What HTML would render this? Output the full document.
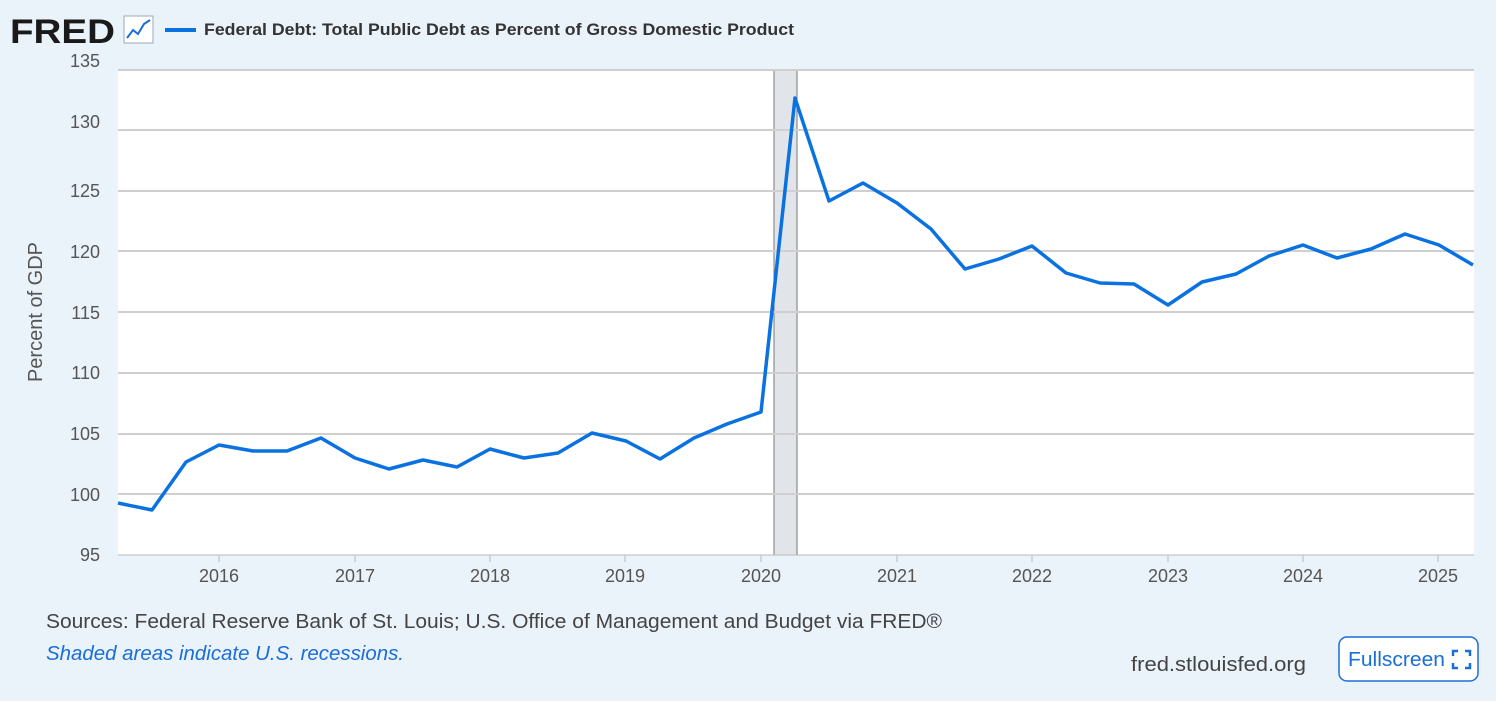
<!DOCTYPE html>
<html><head><meta charset="utf-8"><style>
html,body{margin:0;padding:0;background:#eaf2fa;}
body{width:1496px;height:701px;position:relative;overflow:hidden;font-family:"Liberation Sans",sans-serif;}
</style></head><body>
<svg width="1496" height="701" xmlns="http://www.w3.org/2000/svg" style="position:absolute;left:0;top:0">
<rect x="0" y="0" width="1496" height="701" fill="#eaf2fa"/>
<text x="10" y="43" font-family="Liberation Sans" font-weight="bold" font-size="34" fill="#1a1a1a" textLength="105" lengthAdjust="spacingAndGlyphs">FRED</text>
<rect x="124" y="16" width="29" height="27" fill="#fff" stroke="#9ab" stroke-width="1"/>
<polyline points="127,38 133,30 138,34 144,24 150,20" fill="none" stroke="#1a6ed8" stroke-width="2"/>
<line x1="165" y1="30" x2="196" y2="30" stroke="#0a72e0" stroke-width="4"/>
<text x="204" y="35" font-family="Liberation Sans" font-weight="bold" font-size="17" fill="#333" textLength="590" lengthAdjust="spacingAndGlyphs">Federal Debt: Total Public Debt as Percent of Gross Domestic Product</text>
<rect x="118" y="70" width="1356" height="485" fill="#fff"/>
<rect x="774" y="70" width="23" height="485" fill="#e1e5e9" stroke="#777" stroke-width="1"/>
<g stroke="#cfcfcf" stroke-width="2">
<line x1="118" x2="1474" y1="70" y2="70"/><line x1="118" x2="1474" y1="130" y2="130"/>
<line x1="118" x2="1474" y1="191" y2="191"/><line x1="118" x2="1474" y1="251" y2="251"/>
<line x1="118" x2="1474" y1="312" y2="312"/><line x1="118" x2="1474" y1="373" y2="373"/>
<line x1="118" x2="1474" y1="434" y2="434"/><line x1="118" x2="1474" y1="494" y2="494"/>
</g>
<line x1="118" x2="1474" y1="555" y2="555" stroke="#bbb" stroke-width="1"/>
<g font-family="Liberation Sans" font-size="18" fill="#555" text-anchor="end">
<text x="100" y="67">135</text><text x="100" y="128">130</text><text x="100" y="197">125</text>
<text x="100" y="258">120</text><text x="100" y="319">115</text><text x="100" y="379">110</text>
<text x="100" y="440">105</text><text x="100" y="501">100</text><text x="100" y="561">95</text>
</g>
<text transform="translate(42,312) rotate(-90)" font-family="Liberation Sans" font-size="20" fill="#555" text-anchor="middle">Percent of GDP</text>
<g font-family="Liberation Sans" font-size="18" fill="#555" text-anchor="middle">
<text x="219" y="582">2016</text><text x="355" y="582">2017</text><text x="490" y="582">2018</text>
<text x="625" y="582">2019</text><text x="761" y="582">2020</text><text x="897" y="582">2021</text>
<text x="1032" y="582">2022</text><text x="1168" y="582">2023</text><text x="1303" y="582">2024</text>
<text x="1438" y="582">2025</text>
</g>
<g stroke="#bbb"><line x1="219" x2="219" y1="555" y2="562"/><line x1="355" x2="355" y1="555" y2="562"/><line x1="490" x2="490" y1="555" y2="562"/><line x1="625" x2="625" y1="555" y2="562"/><line x1="761" x2="761" y1="555" y2="562"/><line x1="897" x2="897" y1="555" y2="562"/><line x1="1032" x2="1032" y1="555" y2="562"/><line x1="1168" x2="1168" y1="555" y2="562"/><line x1="1303" x2="1303" y1="555" y2="562"/><line x1="1438" x2="1438" y1="555" y2="562"/></g>
<polyline fill="none" stroke="#0a72e0" stroke-width="3.5" stroke-linejoin="round" points="
118,503 152,510 186,462 219,445 253,451 287,451 321,438 355,458 389,469 423,460 457,467 490,449 524,458 558,453 592,433 626,441 660,459 694,438 727,424 761,412 795,98 829,201 863,183 897,203 931,229 965,269 999,259 1032,246 1066,273 1100,283 1134,284 1168,305 1202,282 1236,274 1269,256 1303,245 1337,258 1371,249 1405,234 1439,245 1473,265"/>
<text x="46" y="628" font-family="Liberation Sans" font-size="20" fill="#444" textLength="896" lengthAdjust="spacingAndGlyphs">Sources: Federal Reserve Bank of St. Louis; U.S. Office of Management and Budget via FRED®</text>
<text x="46" y="660" font-family="Liberation Sans" font-size="20" font-style="italic" fill="#1a6ed8" textLength="358" lengthAdjust="spacingAndGlyphs">Shaded areas indicate U.S. recessions.</text>
<text x="1131" y="671" font-family="Liberation Sans" font-size="20" fill="#444" textLength="175" lengthAdjust="spacingAndGlyphs">fred.stlouisfed.org</text>
<rect x="1339" y="637" width="139" height="44" rx="8" fill="#fff" stroke="#1a6ed8" stroke-width="1.5"/>
<text x="1348" y="666" font-family="Liberation Sans" font-size="20" fill="#1a6ed8" textLength="97" lengthAdjust="spacingAndGlyphs">Fullscreen</text>
<g stroke="#1a6ed8" stroke-width="2.5" fill="none"><polyline points="1453,656 1453,651 1458,651"/><polyline points="1465,651 1470,651 1470,656"/><polyline points="1453,663 1453,668 1458,668"/><polyline points="1465,668 1470,668 1470,663"/></g>
</svg>
</body></html>
